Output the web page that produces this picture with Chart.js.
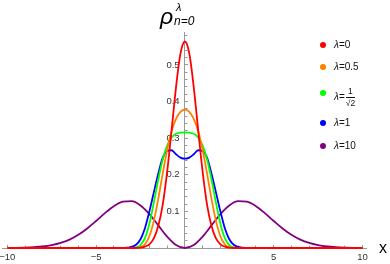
<!DOCTYPE html>
<html>
<head>
<meta charset="utf-8">
<script src="https://cdn.jsdelivr.net/npm/chart.js@4"></script>
<style>
  html, body { margin: 0; padding: 0; background: #fff; }
  #wrap { position: relative; width: 390px; height: 264px; font-family: "Liberation Sans", Arial, sans-serif; }
  #wrap canvas { position: absolute; left: 0; top: 0; }
  .t { position: absolute; white-space: nowrap; color: #000; }
  .leg { position: absolute; left: 318px; font-size: 10px; color: #111; height: 12px; line-height: 12px; }
  .leg .dot { position: absolute; left: 2px; top: 3px; width: 6px; height: 6px; border-radius: 50%; }
  .leg .lab { position: absolute; left: 16px; top: 0; white-space: nowrap; }
  .frac { display: inline-block; vertical-align: middle; text-align: center; font-size: 8.5px; line-height: 9px; margin-left: 1px; }
  .frac .num { display: block; border-bottom: 1px solid #111; padding: 0 1px 1px 1px; }
  .frac .den { display: block; padding-top: 1px; }
</style>
</head>
<body>
<div id="wrap">
  <canvas id="chart" width="390" height="264"></canvas>
  <div class="t" style="left:160px; top:3px; font-style:italic; font-size:23px;">ρ</div>
  <div class="t" style="left:176px; top:1px; font-style:italic; font-size:11px;">λ</div>
  <div class="t" style="left:174px; top:14px; font-style:italic; font-size:12px;">n=0</div>
  <div class="t" style="left:379px; top:239px; font-size:16px;">x</div>
  <div id="legend"></div>
</div>
<script>
// curve values
const xNarrow = [-10, -5, -4, -3.5, -3.25, -3, -2.75, -2.5, -2.25, -2, -1.75, -1.5, -1.25, -1, -0.75, -0.5, -0.25, 0,
  0.25, 0.5, 0.75, 1, 1.25, 1.5, 1.75, 2, 2.25, 2.5, 2.75, 3, 3.25, 3.5, 4, 5, 10];
const rhoL0 = [0, 0, 0, 0, 0, 0, 0, 0.001, 0.004, 0.010, 0.026, 0.060, 0.118, 0.208, 0.321, 0.439, 0.531, 0.564,
  0.531, 0.439, 0.321, 0.208, 0.118, 0.060, 0.026, 0.010, 0.004, 0.001, 0, 0, 0, 0, 0, 0, 0];
const rhoL05 = [0, 0, 0, 0, 0, 0, 0, 0.002, 0.010, 0.032, 0.074, 0.134, 0.203, 0.268, 0.319, 0.353, 0.372, 0.378,
  0.372, 0.353, 0.319, 0.268, 0.203, 0.134, 0.074, 0.032, 0.010, 0.002, 0, 0, 0, 0, 0, 0, 0];
const rhoLsqrt = [0, 0, 0, 0, 0, 0, 0.002, 0.008, 0.027, 0.066, 0.124, 0.187, 0.242, 0.280, 0.302, 0.312, 0.315, 0.316,
  0.315, 0.312, 0.302, 0.280, 0.242, 0.187, 0.124, 0.066, 0.027, 0.008, 0.002, 0, 0, 0, 0, 0, 0];
const rhoL1 = [0, 0, 0, 0, 0.001, 0.003, 0.009, 0.024, 0.054, 0.100, 0.152, 0.203, 0.246, 0.265, 0.267, 0.256, 0.247, 0.244,
  0.247, 0.256, 0.267, 0.265, 0.246, 0.203, 0.152, 0.100, 0.054, 0.024, 0.009, 0.003, 0.001, 0, 0, 0, 0];

const xWide = [-10, -9.5, -9, -8.5, -8, -7.5, -7, -6.5, -6, -5.5, -5, -4.5, -4, -3.5, -3, -2.5, -2, -1.5, -1, -0.5, 0,
  0.5, 1, 1.5, 2, 2.5, 3, 3.5, 4, 4.5, 5, 5.5, 6, 6.5, 7, 7.5, 8, 8.5, 9, 9.5, 10];
const rhoL10 = [0.0002, 0.0004, 0.0010, 0.0021, 0.0041, 0.0078, 0.0138, 0.0230, 0.0362, 0.0534, 0.0739, 0.0954, 0.1143,
  0.1265, 0.1278, 0.1162, 0.0927, 0.0619, 0.0311, 0.0084, 0,
  0.0084, 0.0311, 0.0619, 0.0927, 0.1162, 0.1278, 0.1265, 0.1143, 0.0954, 0.0739, 0.0534, 0.0362, 0.0230, 0.0138,
  0.0078, 0.0041, 0.0021, 0.0010, 0.0004, 0.0002];

const xMajorTicks = [-10, -5, 0, 5, 10];
const xMinorTicks = [-10, -9, -8, -7, -6, -5, -4, -3, -2, -1, 0, 1, 2, 3, 4, 5, 6, 7, 8, 9, 10];
const yMajorTicks = [0.1, 0.2, 0.3, 0.4, 0.5];
const yMinorTicks = [0.02, 0.04, 0.06, 0.08, 0.1, 0.12, 0.14, 0.16, 0.18, 0.2, 0.22, 0.24, 0.26, 0.28, 0.3,
  0.32, 0.34, 0.36, 0.38, 0.4, 0.42, 0.44, 0.46, 0.48, 0.5, 0.52, 0.54, 0.56, 0.58];

const seriesNames = ["λ=0", "λ=0.5", "λ=1/√2", "λ=1", "λ=10"];
const seriesColors = ["#ff0000", "#ff8000", "#00ff00", "#0000ff", "#800080"];
const seriesX = [xNarrow, xNarrow, xNarrow, xNarrow, xWide];
const seriesY = [rhoL0, rhoL05, rhoLsqrt, rhoL1, rhoL10];

const AXIS = '#9a9a9a';
const tickFont = { family: 'Liberation Sans', size: 9.5 };

const fixTicks = list => scale => { scale.ticks = list.map(v => ({ value: v })); };
// let the end labels hang over the edge, as in the original
const noPad = scale => { scale.paddingLeft = 0; scale.paddingRight = 0; scale.paddingTop = 0; scale.paddingBottom = 0; };

new Chart(document.getElementById('chart'), {
  type: 'line',
  data: {
    datasets: seriesY.map((ys, i) => ({
      label: seriesNames[i],
      data: ys.map((y, j) => ({ x: seriesX[i][j], y: y })),
      borderColor: seriesColors[i],
      borderWidth: 1.8,
      pointRadius: 0,
      cubicInterpolationMode: 'monotone',
      fill: false,
      clip: 6
    }))
  },
  options: {
    responsive: false,
    animation: false,
    layout: { padding: { left: 2, right: 24, top: 32, bottom: 16 } },
    plugins: { legend: { display: false }, tooltip: { enabled: false } },
    scales: {
      x: {
        type: 'linear', min: -10.3, max: 10.2,
        position: { y: 0 },
        afterBuildTicks: fixTicks(xMajorTicks),
        afterFit: noPad,
        border: { color: AXIS, width: 1 },
        grid: { drawOnChartArea: false, tickLength: -4, tickColor: AXIS },
        ticks: {
          color: '#333', font: tickFont, padding: 8, maxRotation: 0,
          callback: v => v === 0 ? '' : String(v).replace('-', '−')
        }
      },
      x2: {
        type: 'linear', min: -10.3, max: 10.2,
        position: { y: 0 },
        afterBuildTicks: fixTicks(xMinorTicks),
        afterFit: noPad,
        border: { display: false },
        grid: { drawOnChartArea: false, tickLength: -2.5, tickColor: AXIS },
        ticks: { display: false }
      },
      y: {
        type: 'linear', min: 0, max: 0.59,
        position: { x: 0 },
        afterBuildTicks: fixTicks(yMajorTicks),
        afterFit: noPad,
        border: { color: AXIS, width: 1 },
        grid: { drawOnChartArea: false, tickLength: -4, tickColor: AXIS },
        ticks: { color: '#333', font: tickFont, callback: v => v.toFixed(1) + '  ' }
      },
      y2: {
        type: 'linear', min: 0, max: 0.59,
        position: { x: 0 },
        afterBuildTicks: fixTicks(yMinorTicks),
        afterFit: noPad,
        border: { display: false },
        grid: { drawOnChartArea: false, tickLength: -2.5, tickColor: AXIS },
        ticks: { display: false }
      }
    }
  }
});

// legend built from the series names and colours
const legTops = [39, 61, 87, 117, 140];
const legend = document.getElementById('legend');
seriesNames.forEach((name, i) => {
  const row = document.createElement('div');
  row.className = 'leg';
  row.style.top = legTops[i] + 'px';
  let label = name.replace('λ', '<i>λ</i>');
  if (name.indexOf('/') > 0) {
    const parts = name.split('=')[1].split('/');
    label = '<i>λ</i>=<span class="frac"><span class="num">' + parts[0] + '</span><span class="den">' + parts[1] + '</span></span>';
  }
  row.innerHTML = '<span class="dot" style="background:' + seriesColors[i] + '"></span><span class="lab">' + label + '</span>';
  legend.appendChild(row);
});
</script>
</body>
</html>
